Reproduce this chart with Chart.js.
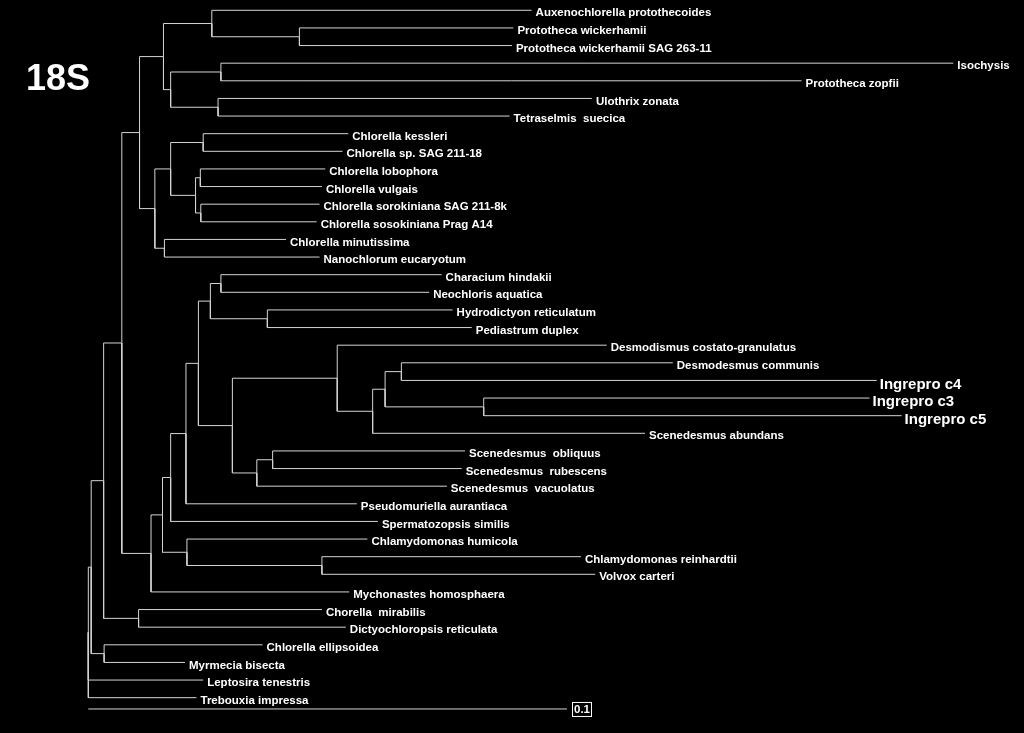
<!DOCTYPE html>
<html>
<head>
<meta charset="utf-8">
<script src="https://cdn.jsdelivr.net/npm/chart.js@4.4.1/dist/chart.umd.min.js"></script>
<style>
    html, body { margin: 0; padding: 0; background: #000; }
    #wrap { width: 1024px; height: 733px; }
</style>
</head>
<body>
<div id="wrap"><canvas id="tree" width="1024" height="733"></canvas></div>
<script>
// tips, top to bottom
const tipNames = [
    'Auxenochlorella protothecoides', 'Prototheca wickerhamii', 'Prototheca wickerhamii SAG 263-11',
    'Isochysis', 'Prototheca zopfii', 'Ulothrix zonata', 'Tetraselmis  suecica',
    'Chlorella kessleri', 'Chlorella sp. SAG 211-18', 'Chlorella lobophora', 'Chlorella vulgais',
    'Chlorella sorokiniana SAG 211-8k', 'Chlorella sosokiniana Prag A14', 'Chlorella minutissima',
    'Nanochlorum eucaryotum', 'Characium hindakii', 'Neochloris aquatica', 'Hydrodictyon reticulatum',
    'Pediastrum duplex', 'Desmodismus costato-granulatus', 'Desmodesmus communis',
    'Ingrepro c4', 'Ingrepro c3', 'Ingrepro c5', 'Scenedesmus abundans', 'Scenedesmus  obliquus',
    'Scenedesmus  rubescens', 'Scenedesmus  vacuolatus', 'Pseudomuriella aurantiaca',
    'Spermatozopsis similis', 'Chlamydomonas humicola', 'Chlamydomonas reinhardtii', 'Volvox carteri',
    'Mychonastes homosphaera', 'Chorella  mirabilis', 'Dictyochloropsis reticulata',
    'Chlorella ellipsoidea', 'Myrmecia bisecta', 'Leptosira tenestris', 'Trebouxia impressa'
];

// distance from root to each tip
const tipDepth = [
    0.0926, 0.0888, 0.0885, 0.1807, 0.1490, 0.1052, 0.0880,
    0.0543, 0.0531, 0.0495, 0.0488, 0.0483, 0.0477, 0.0413, 0.0483,
    0.0738, 0.0712, 0.0761, 0.0801, 0.1083, 0.1221, 0.1647, 0.1632, 0.1699, 0.1163,
    0.0787, 0.0780, 0.0749, 0.0561, 0.0605, 0.0583, 0.1029, 0.1059, 0.0545,
    0.0488, 0.0538, 0.0364, 0.0202, 0.0240, 0.0226
];

// internal node each tip hangs from
const tipParent = [
    10, 11, 11, 13, 13, 14, 14, 16, 16, 18, 18, 19, 19, 20, 20,
    26, 26, 27, 27, 29, 32, 32, 33, 33, 30, 35, 35, 34, 23, 22,
    36, 37, 37, 7, 5, 5, 3, 3, 0, 0
];

// internal nodes: distance from root and parent node (-1 = root)
const nodeDepth = [
    0, 0.0006, 0.0032, 0.0033, 0.0070, 0.0105, 0.0107, 0.0131, 0.0157, 0.0139,
    0.0258, 0.0441, 0.0172, 0.0277, 0.0271, 0.0172, 0.0240, 0.0224, 0.0234, 0.0235,
    0.0159, 0.0155, 0.0172, 0.0204, 0.0230, 0.0255, 0.0277, 0.0374, 0.0301, 0.0520,
    0.0594, 0.0620, 0.0654, 0.0826, 0.0352, 0.0385, 0.0206, 0.0488
];
const nodeParent = [
    -1, 0, 1, 1, 2, 2, 4, 4, 6, 6,
    8, 10, 8, 12, 12, 9, 15, 15, 17, 17,
    9, 7, 21, 22, 23, 24, 25, 25, 24, 28,
    29, 30, 31, 31, 28, 34, 21, 36
];

const scaleBarValue = 0.1;
const bigTips = ['Ingrepro c4', 'Ingrepro c3', 'Ingrepro c5'];
const lineColor = '#d4d4d4';

// vertical position of every node = middle of its outermost children
function nodePositions() {
    let ys = new Array(nodeDepth.length).fill(null);
    let kids = nodeDepth.map(() => []);
    tipParent.forEach((p, i) => kids[p].push(i));
    for (let n = nodeDepth.length - 1; n >= 0; n--) {
        nodeParent.forEach((p, c) => { if (p === n) kids[n].push(ys[c]); });
        ys[n] = (Math.min(...kids[n]) + Math.max(...kids[n])) / 2;
    }
    return ys;
}

function buildDatasets() {
    const nodeY = nodePositions();
    let datasets = [];
    const elbow = (parent, depth, y) => ({
        data: [
            {x: nodeDepth[parent], y: nodeY[parent]},
            {x: nodeDepth[parent], y: y},
            {x: depth, y: y}
        ],
        showLine: true,
        borderColor: lineColor,
        borderWidth: 1,
        pointRadius: 0,
        fill: false
    });
    tipParent.forEach((p, i) => datasets.push(elbow(p, tipDepth[i], i)));
    nodeParent.forEach((p, n) => {
        if (p >= 0) datasets.push(elbow(p, nodeDepth[n], nodeY[n]));
    });
    // scale bar
    datasets.push({
        data: [{x: 0, y: 39.64}, {x: scaleBarValue, y: 39.64}],
        showLine: true,
        borderColor: lineColor,
        borderWidth: 1,
        pointRadius: 0
    });
    return datasets;
}

const labelPlugin = {
    id: 'tipLabels',
    afterDatasetsDraw(chart) {
        const ctx = chart.ctx;
        const xs = chart.scales.x;
        const ys = chart.scales.y;
        ctx.save();
        ctx.fillStyle = '#fff';
        ctx.textBaseline = 'middle';
        tipNames.forEach((name, i) => {
            const big = bigTips.includes(name);
            ctx.font = big ? 'bold 15px "Liberation Sans", Arial, sans-serif'
                           : 'bold 11.5px "Liberation Sans", Arial, sans-serif';
            ctx.fillText(name, xs.getPixelForValue(tipDepth[i]) + (big ? 3 : 4),
                ys.getPixelForValue(i) + (big ? 4 : 3));
        });

        // scale bar label in a box
        const bx = xs.getPixelForValue(scaleBarValue) + 5;
        const by = ys.getPixelForValue(39.64);
        ctx.strokeStyle = '#fff';
        ctx.lineWidth = 1;
        ctx.strokeRect(bx + 0.5, by - 6.5, 19, 14);
        ctx.font = 'bold 11.5px "Liberation Sans", Arial, sans-serif';
        ctx.textAlign = 'center';
        ctx.fillText(scaleBarValue.toString(), bx + 10, by + 1);

        ctx.textAlign = 'left';
        ctx.textBaseline = 'alphabetic';
        ctx.font = 'bold 36px "Liberation Sans", Arial, sans-serif';
        ctx.fillText('18S', 26, 90);
        ctx.restore();
    }
};

new Chart(document.getElementById('tree'), {
    type: 'scatter',
    data: { datasets: buildDatasets() },
    options: {
        responsive: false,
        animation: false,
        layout: { padding: 0 },
        plugins: {
            legend: { display: false },
            tooltip: { enabled: false }
        },
        scales: {
            x: { type: 'linear', display: false, min: -0.01845, max: 0.19547 },
            y: { type: 'linear', display: false, reverse: true, min: -0.5844, max: 41.004 }
        }
    },
    plugins: [labelPlugin]
});
</script>
</body>
</html>
